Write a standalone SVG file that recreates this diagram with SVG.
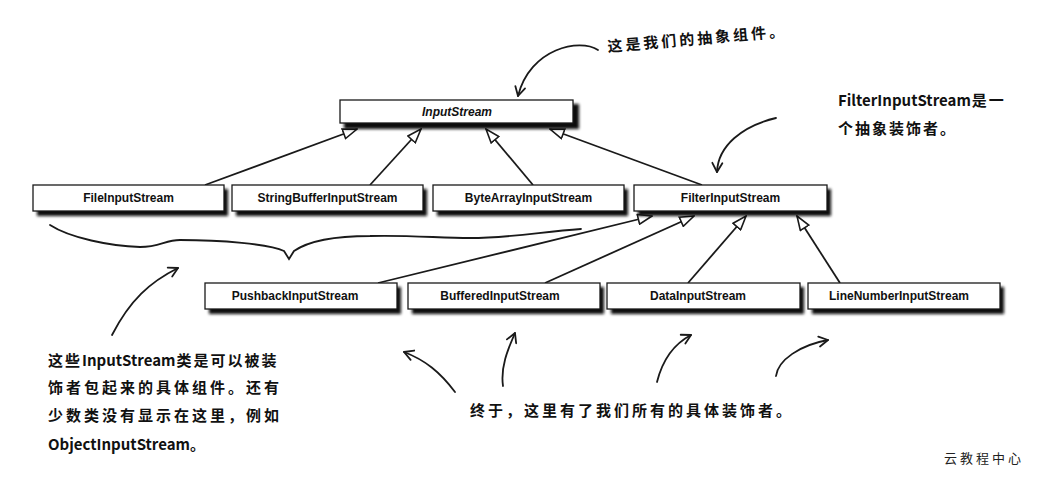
<svg xmlns="http://www.w3.org/2000/svg" width="1057" height="478" viewBox="0 0 1057 478">
<style>
.box{fill:#fff;stroke:#1a1a1a;stroke-width:1.3}
.shadow{fill:#0a0a0a;filter:url(#blur)}
.lbl{font-family:"Liberation Sans",Arial,sans-serif;font-weight:bold;font-size:12px;fill:#111;text-anchor:middle}
.conn{stroke:#1a1a1a;stroke-width:1.8;fill:none;marker-end:url(#tri)}
.hand{stroke:#1a1a1a;stroke-width:1.8;fill:none;stroke-linecap:round}
.harrow{marker-end:url(#open)}
.note{font-family:"Noto Sans CJK SC","Noto Sans",sans-serif;font-weight:bold;font-size:15px;fill:#111;letter-spacing:2px}
.lat{font-weight:600;letter-spacing:0}
.wm{font-family:"Noto Sans CJK SC",sans-serif;font-size:13px;fill:#222;letter-spacing:3px}
</style>
<defs>
<filter id="blur" x="-5%" y="-30%" width="110%" height="160%"><feGaussianBlur stdDeviation="1.4"/></filter>
<marker id="tri" markerUnits="userSpaceOnUse" markerWidth="16" markerHeight="12" refX="14" refY="5" orient="auto" viewBox="-1 -1 16 12">
<path d="M0,0 L14,5 L0,10 z" fill="#fff" stroke="#1a1a1a" stroke-width="1.6"/>
</marker>
<marker id="open" markerUnits="userSpaceOnUse" markerWidth="14" markerHeight="14" refX="9" refY="5" orient="auto" viewBox="-2 -2 14 14">
<path d="M0,0 L9,5 L0,10" fill="none" stroke="#1a1a1a" stroke-width="1.8" stroke-linecap="round" stroke-linejoin="round"/>
</marker>
</defs>

<g id="connectors">
<line class="conn" x1="205" y1="185" x2="357" y2="129"/>
<line class="conn" x1="370" y1="185" x2="421" y2="129"/>
<line class="conn" x1="533" y1="185" x2="486" y2="129"/>
<line class="conn" x1="702" y1="185" x2="550" y2="129"/>
<line class="conn" x1="378" y1="283" x2="652" y2="216"/>
<line class="conn" x1="545" y1="283" x2="694" y2="216"/>
<line class="conn" x1="688" y1="283" x2="746" y2="216"/>
<line class="conn" x1="840" y1="283" x2="797" y2="216"/>
</g>

<g id="InputStream">
<rect class="shadow" x="344" y="104" width="235" height="25"/>
<rect class="box" x="340" y="100" width="233" height="23"/>
<text class="lbl" x="457" y="116" font-style="italic">InputStream</text>
</g>

<g id="FileInputStream">
<rect class="shadow" x="37" y="189" width="191" height="27"/>
<rect class="box" x="33" y="185" width="191" height="26"/>
<text class="lbl" x="128.5" y="202">FileInputStream</text>
</g>
<g id="StringBufferInputStream">
<rect class="shadow" x="236" y="189" width="191" height="27"/>
<rect class="box" x="232" y="185" width="191" height="26"/>
<text class="lbl" x="327.5" y="202">StringBufferInputStream</text>
</g>
<g id="ByteArrayInputStream">
<rect class="shadow" x="437" y="189" width="191" height="27"/>
<rect class="box" x="433" y="185" width="191" height="26"/>
<text class="lbl" x="528.5" y="202">ByteArrayInputStream</text>
</g>
<g id="FilterInputStream">
<rect class="shadow" x="638" y="189" width="193" height="27"/>
<rect class="box" x="634" y="185" width="193" height="26"/>
<text class="lbl" x="730.5" y="202">FilterInputStream</text>
</g>

<g id="PushbackInputStream">
<rect class="shadow" x="209" y="287" width="192" height="27"/>
<rect class="box" x="205" y="283" width="192" height="26"/>
<text class="lbl" x="295" y="300">PushbackInputStream</text>
</g>
<g id="BufferedInputStream">
<rect class="shadow" x="412" y="287" width="192" height="27"/>
<rect class="box" x="408" y="283" width="192" height="26"/>
<text class="lbl" x="500" y="300">BufferedInputStream</text>
</g>
<g id="DataInputStream">
<rect class="shadow" x="611" y="287" width="193" height="27"/>
<rect class="box" x="607" y="283" width="193" height="26"/>
<text class="lbl" x="698" y="300">DataInputStream</text>
</g>
<g id="LineNumberInputStream">
<rect class="shadow" x="812" y="287" width="192" height="27"/>
<rect class="box" x="808" y="283" width="192" height="26"/>
<text class="lbl" x="899" y="300">LineNumberInputStream</text>
</g>

<g id="annotations">
<path class="hand harrow" d="M598,50 C580,38 530,48 518,96"/>
<text class="note" transform="translate(608,52) rotate(-5)" style="letter-spacing:3px">这是我们的抽象组件。</text>

<path class="hand harrow" d="M776,118 C742,126 718,146 717,172"/>
<text class="note" x="838" y="106"><tspan class="lat">FilterInputStream</tspan><tspan dx="1">是一</tspan></text>
<text class="note" x="838" y="134">个抽象装饰者。</text>

<path class="hand" d="M50,225 C70,238 110,246 140,247 C160,247 165,240 180,240 C220,240 270,244 284,251 L289,259 L294,251 C310,240 340,236 370,236 C410,235 440,238 470,238 C510,238 540,232 581,229"/>
<path class="hand harrow" d="M112,335 C130,300 150,282 178,268"/>

<text class="note" x="48" y="366">这些<tspan class="lat">InputStream</tspan><tspan dx="1">类是可以被装</tspan></text>
<text class="note" x="48" y="393" style="letter-spacing:3px">饰者包起来的具体组件。还有</text>
<text class="note" x="48" y="421" style="letter-spacing:3px">少数类没有显示在这里，例如</text>
<text class="note" x="48" y="450"><tspan class="lat">ObjectInputStream</tspan>。</text>

<path class="hand harrow" d="M455,392 C440,372 425,360 404,352"/>
<path class="hand harrow" d="M503,386 C500,365 510,345 515,333"/>
<path class="hand harrow" d="M657,382 C662,362 672,345 691,335"/>
<path class="hand harrow" d="M776,376 C778,360 800,345 828,340"/>
<text class="note" x="470" y="416" style="letter-spacing:3px">终于，这里有了我们所有的具体装饰者。</text>

<text class="wm" x="944" y="463">云教程中心</text>
</g>
</svg>
